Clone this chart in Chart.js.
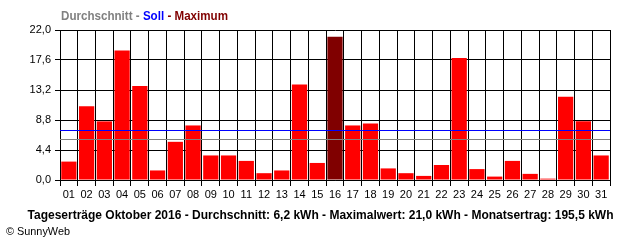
<!DOCTYPE html>
<html>
<head>
<meta charset="utf-8">
<script src="https://cdn.jsdelivr.net/npm/chart.js@4"></script>
<style>
  html, body { margin: 0; padding: 0; background: #fff; }
  #wrap { width: 640px; height: 240px; position: relative; }
</style>
</head>
<body>
<div id="wrap"><canvas id="ertragChart" width="640" height="240"></canvas></div>
<script>
// Tageserträge Oktober 2016 (kWh)
const days = ['01','02','03','04','05','06','07','08','09','10','11','12','13','14','15','16',
              '17','18','19','20','21','22','23','24','25','26','27','28','29','30','31'];
const ertrag = [2.7, 10.8, 8.6, 19.0, 13.8, 1.4, 5.6, 8.0, 3.6, 3.6, 2.8, 1.0, 1.4, 14.0, 2.5, 21.0,
                8.0, 8.3, 1.7, 1.0, 0.6, 2.2, 17.9, 1.6, 0.5, 2.8, 0.9, 0.2, 12.2, 8.6, 3.6];
const durchschnitt = 6.0;
const soll = 7.4;
const yTicks = [0, 4.4, 8.8, 13.2, 17.6, 22.0];

const FONT = '"Liberation Sans", Arial, sans-serif';
const maxIdx = ertrag.indexOf(Math.max(...ertrag));
const barColors = ertrag.map((v, i) => i === maxIdx ? '#800000' : '#ff0000');

// draws Durchschnitt / Soll lines over the bars, plus header and footer texts
const sunnyPlugin = {
    id: 'sunny',
    afterDatasetsDraw(chart) {
        const ctx = chart.ctx;
        const area = chart.chartArea;
        const y = chart.scales.y;
        ctx.save();
        const refLines = [
            { value: durchschnitt, color: '#808080' },
            { value: soll, color: '#0000ff' }
        ];
        refLines.forEach(function(l) {
            const py = Math.round(y.getPixelForValue(l.value));
            ctx.fillStyle = l.color;
            ctx.fillRect(area.left, py, area.right - area.left, 1);
        });
        ctx.restore();
    },
    afterDraw(chart) {
        const ctx = chart.ctx;
        ctx.save();
        ctx.textBaseline = 'middle';

        // header legend
        ctx.font = 'bold 12px ' + FONT;
        const parts = [['Durchschnitt', '#808080'], [' - ', '#808080'], ['Soll', '#0000ff'],
                       [' - ', '#800000'], ['Maximum', '#800000']];
        const total = parts.reduce((s, p) => s + ctx.measureText(p[0]).width, 0);
        const scale = Math.min(1, 167 / total);
        let x = 61;
        parts.forEach(([t, c]) => {
            const w = ctx.measureText(t).width * scale;
            ctx.fillStyle = c;
            ctx.textAlign = 'left';
            ctx.fillText(t, x, 17, w);
            x += w;
        });

        // footer
        ctx.fillStyle = '#000';
        ctx.textAlign = 'center';
        ctx.fillText('Tageserträge Oktober 2016 - Durchschnitt: 6,2 kWh - Maximalwert: 21,0 kWh - Monatsertrag: 195,5 kWh',
                     320.5, 216, 595);
        ctx.font = '11px ' + FONT;
        ctx.textAlign = 'left';
        ctx.fillText('© SunnyWeb', 6, 232, 64);
        ctx.restore();
    }
};

new Chart(document.getElementById('ertragChart'), {
    type: 'bar',
    data: {
        labels: days,
        datasets: [{
            data: ertrag,
            backgroundColor: barColors,
            borderWidth: 0,
            barPercentage: 0.86,
            categoryPercentage: 1.0
        }]
    },
    options: {
        responsive: false,
        animation: false,
        events: [],
        layout: { padding: { top: 30, right: 30, left: 0, bottom: 0 } },
        plugins: { legend: { display: false }, tooltip: { enabled: false } },
        scales: {
            x: {
                offset: true,
                grid: { color: '#000', lineWidth: 1, offset: true, tickLength: 6, drawTicks: true },
                border: { color: '#000', width: 1 },
                ticks: { color: '#000', font: { family: FONT, size: 11 }, padding: 2, maxRotation: 0, autoSkip: false },
                afterFit(scale) { scale.height = 60; }
            },
            y: {
                min: 0,
                max: 22,
                afterBuildTicks(scale) { scale.ticks = yTicks.map(v => ({ value: v })); },
                grid: { color: '#000', lineWidth: 1, tickLength: 5 },
                border: { color: '#000', width: 1 },
                ticks: {
                    color: '#000',
                    font: { family: FONT, size: 11 },
                    padding: 4,
                    callback: v => v.toFixed(1).replace('.', ',')
                },
                afterFit(scale) { scale.width = 60; }
            }
        }
    },
    plugins: [sunnyPlugin]
});
</script>
</body>
</html>
